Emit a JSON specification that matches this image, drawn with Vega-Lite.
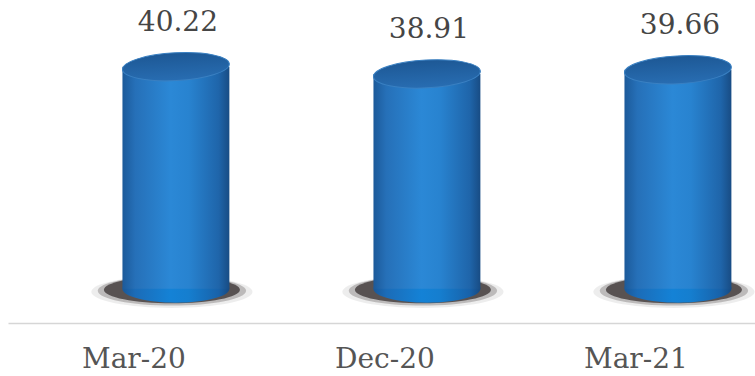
{
  "$schema": "https://vega.github.io/schema/vega-lite/v6.json",
  "width": 747,
  "height": 323,
  "autosize": {"type": "none"},
  "padding": {"left": 8, "top": 0, "right": 0, "bottom": 53},
  "background": "white",
  "config": {"view": {"stroke": null}},
  "data": {"values": [
    {"period": "Mar-20", "value": 40.22},
    {"period": "Dec-20", "value": 38.91},
    {"period": "Mar-21", "value": 39.66}
  ]},
  "encoding": {
    "x": {
      "field": "period", "type": "nominal", "sort": ["Mar-20", "Dec-20", "Mar-21"],
      "scale": {"paddingInner": 0.574, "paddingOuter": 0.275, "align": 0.829},
      "axis": {
        "title": null, "labelAngle": 0, "ticks": false, "tickSize": 0, "grid": false,
        "domainColor": "#d6d6d6", "domainWidth": 1.5,
        "labelFont": "DejaVu Serif", "labelFontSize": 28, "labelColor": "#555555",
        "labelOffset": -42, "labelPadding": 22, "labelBaseline": "top"
      }
    }
  },
  "layer": [
    {
      "mark": {"type": "point", "filled": true, "shape": "M -1 0 C -1 -0.11 -0.552 -0.2 0 -0.2 C 0.552 -0.2 1 -0.11 1 0 C 1 0.11 0.552 0.2 0 0.2 C -0.552 0.2 -1 0.11 -1 0 Z", "size": 26000, "fill": "#000000", "opacity": 0.07, "strokeWidth": 0, "xOffset": -4, "yOffset": 3},
      "encoding": {"y": {"datum": 0, "type": "quantitative", "scale": {"domain": [-6.2, 52.3]}, "axis": null}}
    },
    {
      "mark": {"type": "point", "filled": true, "shape": "M -1 0 C -1 -0.11 -0.552 -0.2 0 -0.2 C 0.552 -0.2 1 -0.11 1 0 C 1 0.11 0.552 0.2 0 0.2 C -0.552 0.2 -1 0.11 -1 0 Z", "size": 22000, "fill": "#2b2525", "opacity": 0.25, "strokeWidth": 0, "xOffset": -4, "yOffset": 2},
      "encoding": {"y": {"datum": 0, "type": "quantitative", "scale": {"domain": [-6.2, 52.3]}, "axis": null}}
    },
    {
      "mark": {"type": "point", "filled": true, "shape": "M -1 0 C -1 -0.11 -0.552 -0.2 0 -0.2 C 0.552 -0.2 1 -0.11 1 0 C 1 0.11 0.552 0.2 0 0.2 C -0.552 0.2 -1 0.11 -1 0 Z", "size": 18500, "fill": "#2e2727", "opacity": 0.7, "strokeWidth": 0, "xOffset": -4, "yOffset": 1},
      "encoding": {"y": {"datum": 0, "type": "quantitative", "scale": {"domain": [-6.2, 52.3]}, "axis": null}}
    },
    {
      "mark": {"type": "point", "filled": true, "shape": "M -1 0 C -1 -0.1435 -0.552 -0.26 0 -0.26 C 0.552 -0.26 1 -0.1435 1 0 C 1 0.1435 0.552 0.26 0 0.26 C -0.552 0.26 -1 0.1435 -1 0 Z", "size": 11449, "opacity": 1, "strokeWidth": 0,
        "fill": {"gradient": "linear", "x1": 0, "x2": 1, "y1": 0, "y2": 0, "stops": [
          {"offset": 0, "color": "#1a5898"}, {"offset": 0.12, "color": "#1b6cb8"}, {"offset": 0.45, "color": "#1482d6"}, {"offset": 0.62, "color": "#157ecf"}, {"offset": 0.9, "color": "#1862aa"}, {"offset": 1, "color": "#174a82"}]}},
      "encoding": {"y": {"datum": 0, "type": "quantitative", "scale": {"domain": [-6.2, 52.3]}, "axis": null}}
    },
    {
      "mark": {"type": "bar",
        "fill": {"gradient": "linear", "x1": 0, "x2": 1, "y1": 0, "y2": 0, "stops": [
          {"offset": 0, "color": "#1c5a9a"}, {"offset": 0.12, "color": "#2670b8"}, {"offset": 0.45, "color": "#2b88d6"}, {"offset": 0.62, "color": "#2883d0"}, {"offset": 0.9, "color": "#1f65aa"}, {"offset": 1, "color": "#184c84"}]}},
      "encoding": {
        "y": {"field": "value", "type": "quantitative", "scale": {"domain": [-6.2, 52.3]}, "axis": null},
        "y2": {"datum": 0}
      }
    },
    {
      "mark": {"type": "point", "filled": true, "shape": "M -1 0 C -1 -0.1435 -0.552 -0.26 0 -0.26 C 0.552 -0.26 1 -0.1435 1 0 C 1 0.1435 0.552 0.26 0 0.26 C -0.552 0.26 -1 0.1435 -1 0 Z", "size": 11449, "opacity": 1, "angle": -3, "stroke": "#3a80c2", "strokeWidth": 1,
        "fill": {"gradient": "linear", "x1": 0, "x2": 0, "y1": 0, "y2": 1, "stops": [
          {"offset": 0, "color": "#1d5895"}, {"offset": 1, "color": "#286db2"}]}},
      "encoding": {"y": {"field": "value", "type": "quantitative", "scale": {"domain": [-6.2, 52.3]}, "axis": null}}
    },
    {
      "mark": {"type": "text", "font": "DejaVu Serif", "fontSize": 28, "color": "#454545", "dy": -44, "dx": 2, "baseline": "middle"},
      "encoding": {
        "y": {"field": "value", "type": "quantitative", "scale": {"domain": [-6.2, 52.3]}, "axis": null},
        "text": {"field": "value", "type": "quantitative", "format": ".2f"}
      }
    }
  ]
}
